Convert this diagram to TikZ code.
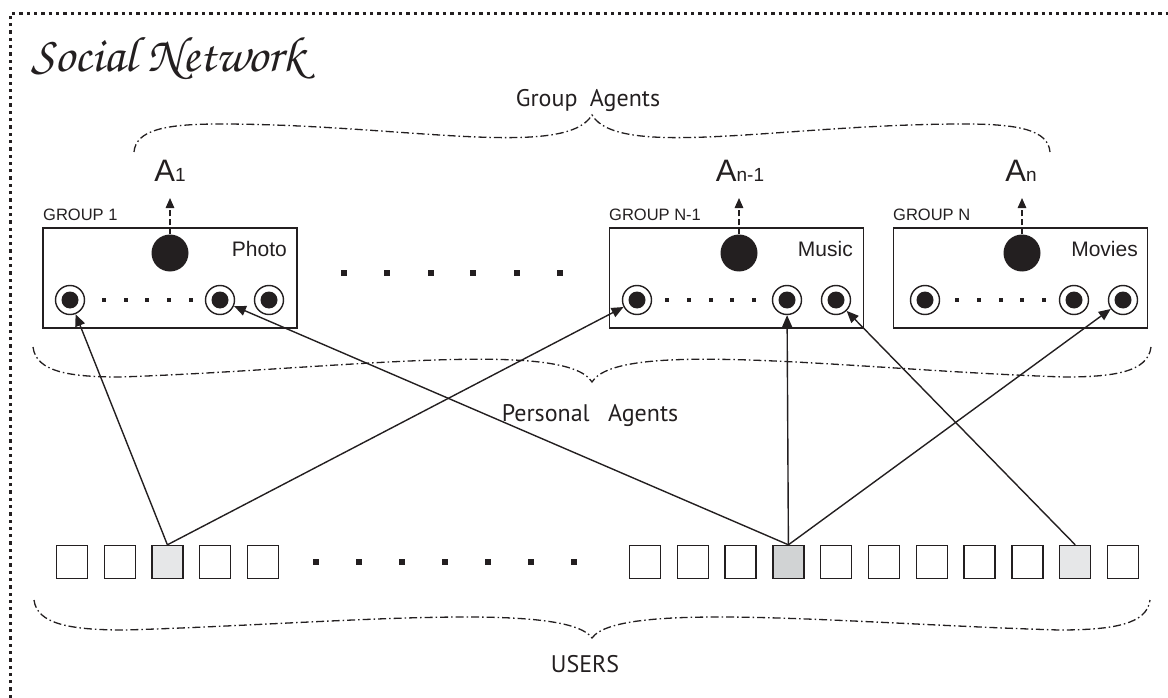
\documentclass[tikz,border=0pt]{standalone}
\usepackage{fontspec}
\usetikzlibrary{arrows.meta}
\newfontfamily\labelfont{Liberation Sans}
\newfontfamily\captionfont{PT Sans}
\newfontfamily\titlefont{texgyrechorus-mediumitalic.otf}
\definecolor{ink}{RGB}{35,31,32}
\definecolor{lightuser}{RGB}{230,231,232}
\definecolor{darkuser}{RGB}{209,211,212}

\begin{document}
\begin{tikzpicture}[x=1pt, y=-1pt, ink,
	every node/.style={inner sep=0pt},
	group/.style={draw, line width=1.6pt, minimum width=254pt, minimum height=100pt},
	agent/.style={circle, fill, minimum size=37pt},
	member/.style={circle, draw, line width=1.4pt, minimum size=29pt, path picture={\fill[ink] (path picture bounding box.center) circle (8.5pt);}},
	user/.style={draw, line width=1.4pt, minimum width=31pt, minimum height=33pt},
	link/.style={line width=1.4pt, -{Triangle[length=12pt,width=10pt]}},
	lift/.style={line width=1.3pt, dash pattern=on 6pt off 3pt, -{Triangle[length=10pt,width=8.5pt]}},
	brace/.style={line width=1.3pt, dash pattern=on 8pt off 3pt on 1.5pt off 3pt},
	caption/.style={anchor=base, font=\captionfont\fontsize{24}{24}\selectfont},
	alabel/.style={anchor=base, font=\labelfont\fontsize{31}{31}\selectfont},
	gname/.style={anchor=base west, font=\labelfont\fontsize{16.5}{16.5}\selectfont},
	topic/.style={anchor=base east, font=\labelfont\fontsize{21}{21}\selectfont}]
	\useasboundingbox (0,0) rectangle (1168,698);

	% frame
	\draw[line width=3pt, dash pattern=on 3.3pt off 4pt] (10,698) -- (10,14) -- (1168,14);
	\node[anchor=base west, font=\titlefont\fontsize{50}{50}\selectfont] (title) at (31,72) {Social Network};

	% group agents
	\node[caption] (ga) at (588,107) {Group\hspace{6pt} Agents};
	\draw[brace] (134,152) .. controls (136,130) and (165,124) .. (220,124)
		.. controls (400,124) and (565,160) .. (592,115)
		.. controls (619,160) and (784,124) .. (964,124)
		.. controls (1019,124) and (1048,130) .. (1050,152);

	\node[alabel] (l1) at (170,182) {A{\fontsize{19}{19}\selectfont 1}};
	\node[alabel] (l2) at (740,182) {A{\fontsize{19}{19}\selectfont n-1}};
	\node[alabel] (l3) at (1021,182) {A{\fontsize{19}{19}\selectfont n}};
	\coordinate (t1) at (170,198);
	\coordinate (t2) at (739,198);
	\coordinate (t3) at (1022,198);

	% groups
	\node[group] (g1) at (170,278) {};
	\node[group] (g2) at (736.5,278) {};
	\node[group] (g3) at (1020.5,278) {};
	\node[gname] at (43,220) {GROUP 1};
	\node[gname] at (609,220) {GROUP N-1};
	\node[gname] at (893,220) {GROUP N};
	\node[topic] at (287,256) {Photo};
	\node[topic] at (853,256) {Music};
	\node[topic] at (1138,256) {Movies};

	\node[agent] (a1) at (170,253) {};
	\node[agent] (a2) at (739,253) {};
	\node[agent] (a3) at (1022,253) {};
	\draw[lift] (a1.north) -- (t1);
	\draw[lift] (a2.north) -- (t2);
	\draw[lift] (a3.north) -- (t3);

	\node[member] (r11) at (70,300) {};
	\node[member] (r12) at (220,300) {};
	\node[member] (r13) at (269,300) {};
	\node[member] (r21) at (637,300) {};
	\node[member] (r22) at (787,300) {};
	\node[member] (r23) at (836,300) {};
	\node[member] (r31) at (925,300) {};
	\node[member] (r32) at (1074,300) {};
	\node[member] (r33) at (1123,300) {};
	\foreach \x in {104,126,147,169,191,667,689,711,732,754,957,979,1001,1022,1044}
		\fill (\x-1.9,298.1) rectangle (\x+1.9,301.9);
	\foreach \x in {344,387,431,473,517,560}
		\fill (\x-3,270) rectangle (\x+3,276);

	% personal agents
	\draw[brace] (33,347) .. controls (36,372) and (70,377) .. (120,377)
		.. controls (330,370) and (565,338) .. (592,382)
		.. controls (619,338) and (854,370) .. (1064,377)
		.. controls (1114,377) and (1148,372) .. (1151,347);
	\node[caption] (pa) at (590,421) {Personal\hspace{12pt} Agents};

	% users
	\node[user] (u1) at (72,562) {};
	\node[user] (u2) at (119.7,562) {};
	\node[user, fill=lightuser] (u3) at (167.4,562) {};
	\node[user] (u4) at (215.1,562) {};
	\node[user] (u5) at (262.8,562) {};
	\foreach \x in {316,359,402,445,488,531,574}
		\fill (\x-3.2,558.8) rectangle (\x+3.2,565.2);
	\node[user] (u6) at (645,562) {};
	\node[user] (u7) at (692.8,562) {};
	\node[user] (u8) at (740.6,562) {};
	\node[user, fill=darkuser] (u9) at (788.4,562) {};
	\node[user] (u10) at (836.2,562) {};
	\node[user] (u11) at (884,562) {};
	\node[user] (u12) at (931.8,562) {};
	\node[user] (u13) at (979.6,562) {};
	\node[user] (u14) at (1027.4,562) {};
	\node[user, fill=lightuser] (u15) at (1075.2,562) {};
	\node[user] (u16) at (1123,562) {};

	\draw[link] (u3.north) -- (r11);
	\draw[link] (u3.north) -- (r21);
	\draw[link] (u9.north) -- (r12);
	\draw[link] (u9.north) -- (r22);
	\draw[link] (u9.north) -- (r33);
	\draw[link] (u15.north) -- (r23);

	\draw[brace] (34,600) .. controls (37,624) and (70,630) .. (125,630)
		.. controls (330,624) and (565,600) .. (592,638)
		.. controls (619,600) and (854,624) .. (1059,630)
		.. controls (1114,630) and (1147,624) .. (1150,600);
	\node[caption] (us) at (585,672) {USERS};
\end{tikzpicture}
\end{document}
